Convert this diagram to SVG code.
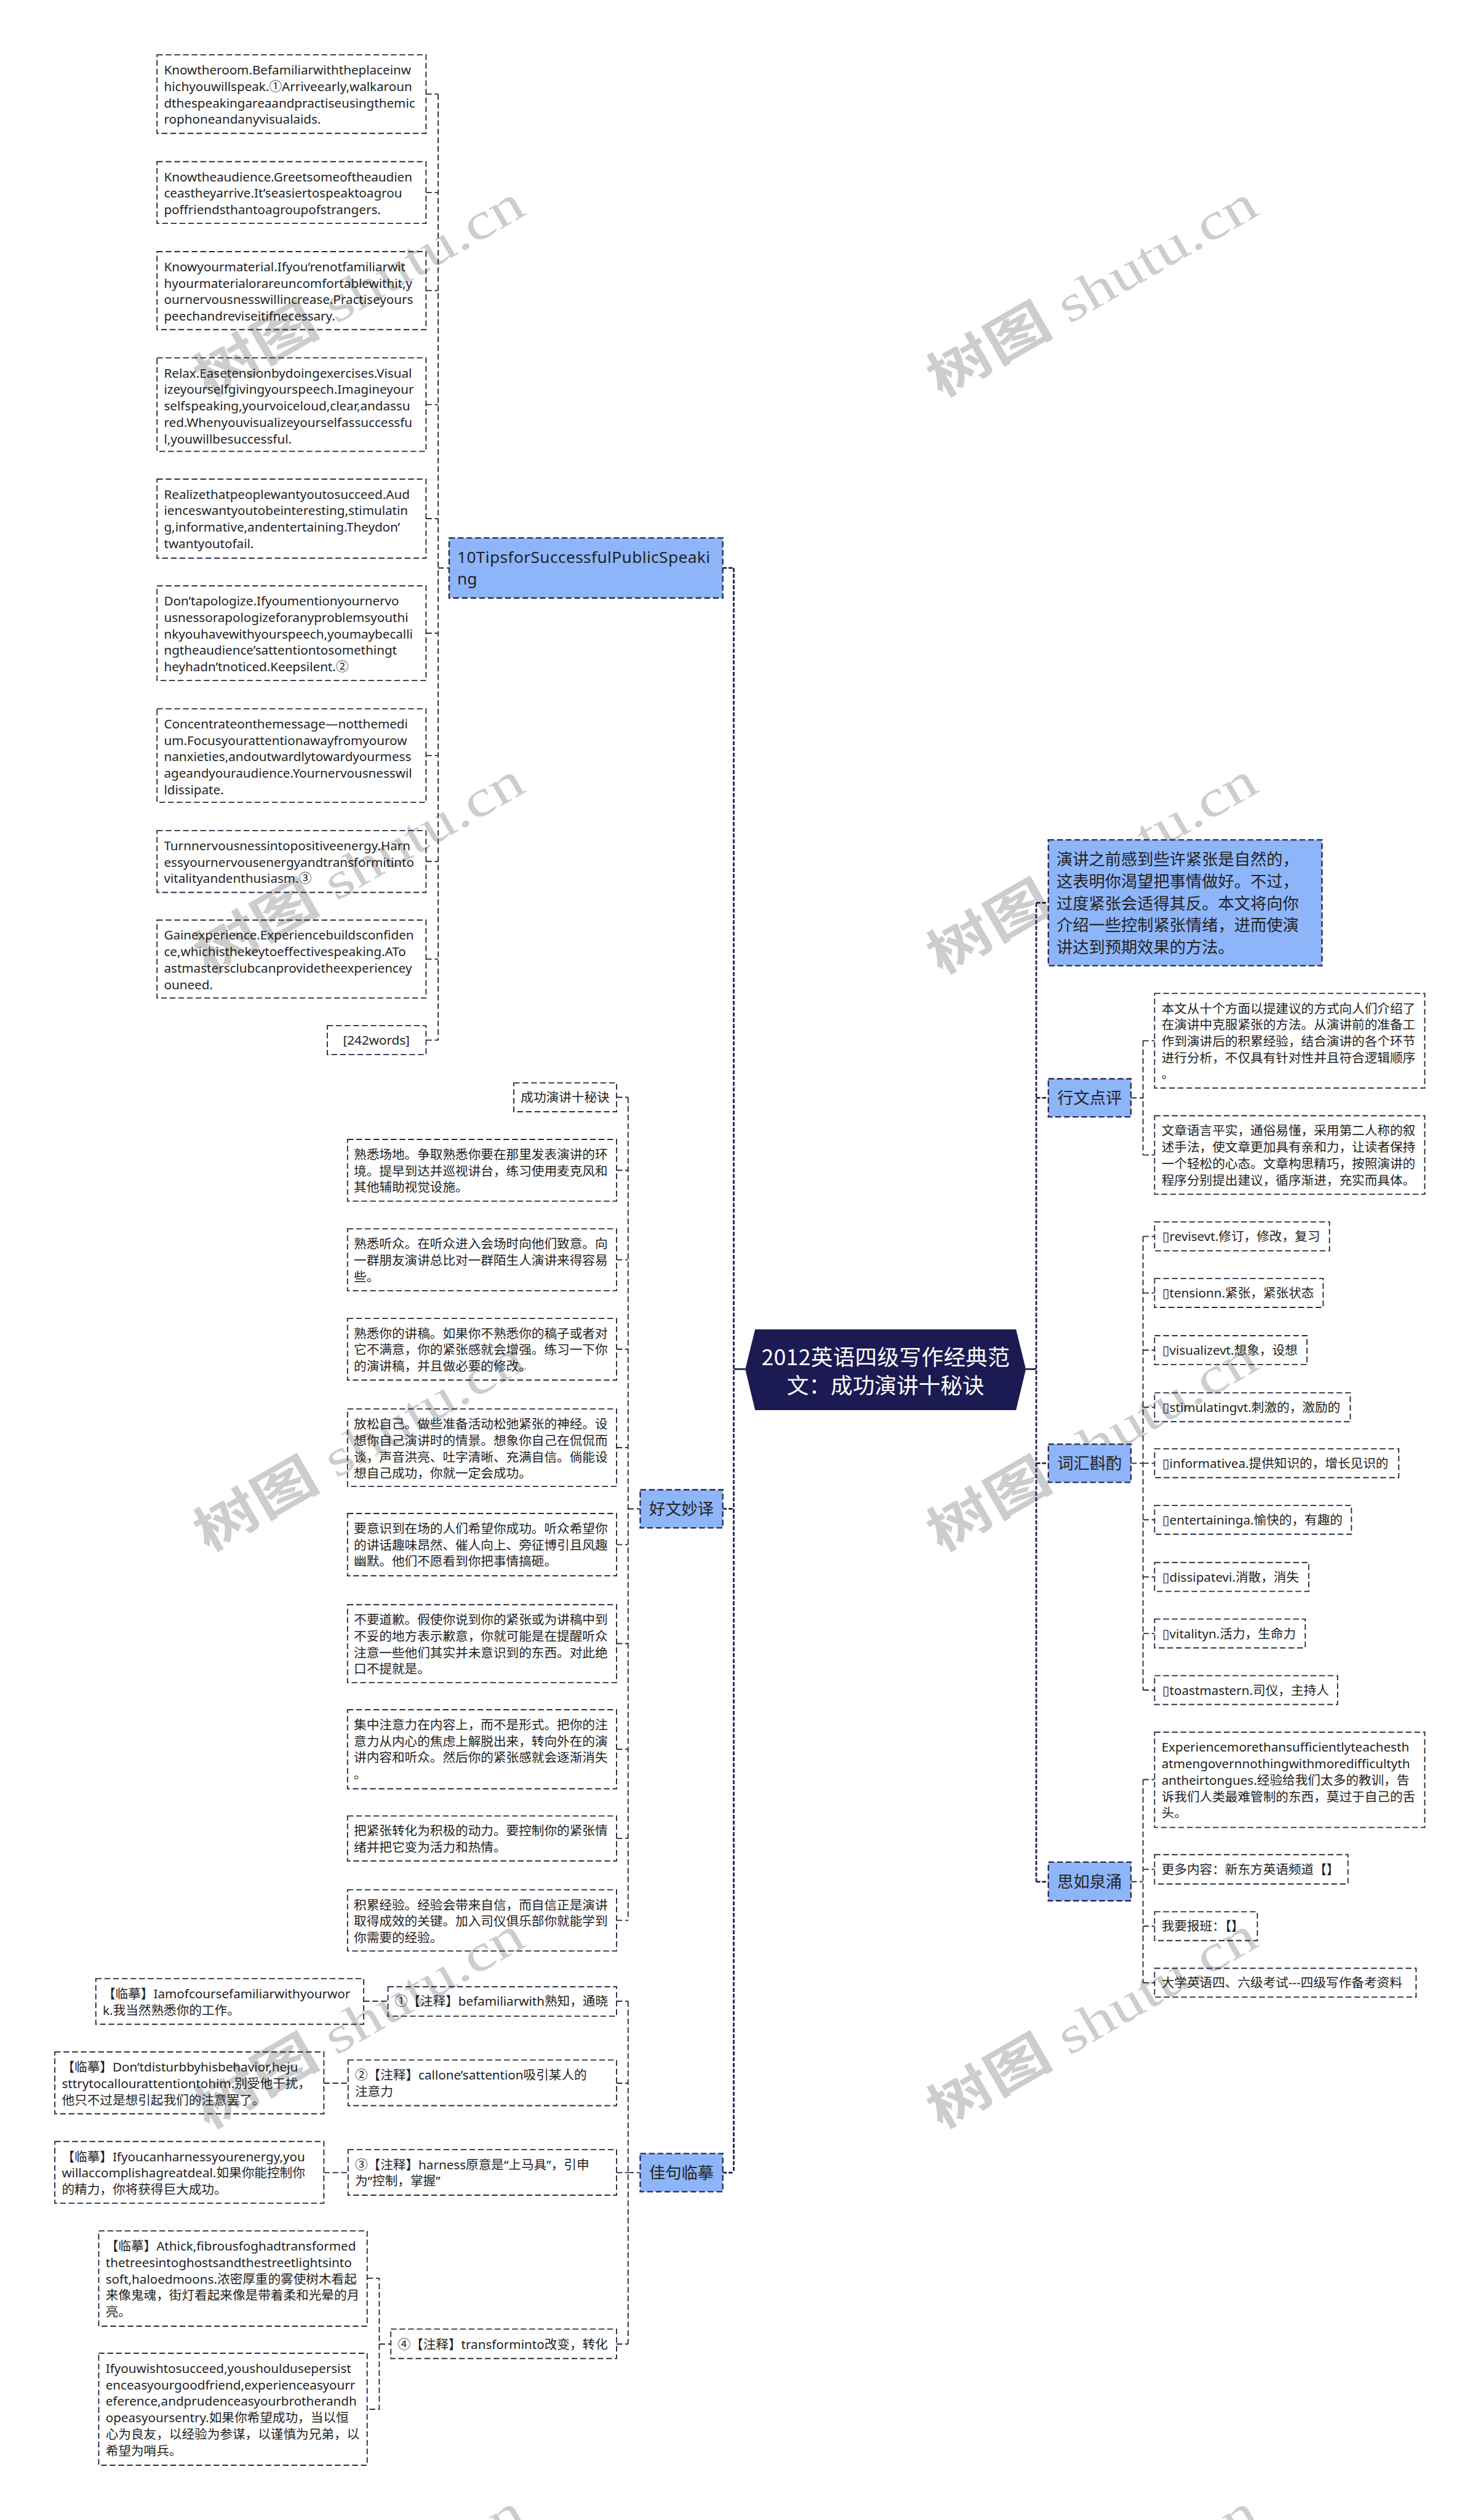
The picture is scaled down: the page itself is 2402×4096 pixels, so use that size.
<svg xmlns="http://www.w3.org/2000/svg" width="2402" height="4096" viewBox="0 0 2402 4096">
<style>
.bx{fill:none;stroke:#2a2a44;stroke-width:2;stroke-dasharray:10 5}
.bl{fill:#8eb5f9;stroke:#2a2a50;stroke-width:2.5;stroke-dasharray:10 5}
.t{font-family:"Noto Sans","Noto Sans CJK SC",sans-serif;font-size:22px;fill:#1f1f1f}
.tl{font-family:"Noto Sans","Noto Sans CJK SC",sans-serif;font-size:28px;fill:#222}
.tc{font-family:"Noto Sans CJK SC","Noto Sans",sans-serif;font-size:28px;fill:#222}
.mid{text-anchor:middle}
.tr{fill:none;stroke:#1f1f55;stroke-width:3;stroke-dasharray:7 3}
.sb{fill:none;stroke:#2a2a44;stroke-width:2;stroke-dasharray:10 5}
.sl{fill:none;stroke:#1f1f55;stroke-width:3}
.wm{fill:#cdcdcd;font-size:90px}
.wc{font-family:"Noto Sans CJK SC",sans-serif;font-weight:bold}
.ws{font-family:"Liberation Serif",serif}
</style>
<rect x="0" y="0" width="2402" height="4096" fill="#ffffff"/>
<g transform="scale(0.9382)">
<g id="watermarks" class="wm">
<text x="360" y="690" transform="rotate(-30 360 690)" textLength="640" lengthAdjust="spacingAndGlyphs"><tspan class="wc">树图</tspan><tspan class="ws"> shutu.cn</tspan></text>
<text x="360" y="1690" transform="rotate(-30 360 1690)" textLength="640" lengthAdjust="spacingAndGlyphs"><tspan class="wc">树图</tspan><tspan class="ws"> shutu.cn</tspan></text>
<text x="360" y="2690" transform="rotate(-30 360 2690)" textLength="640" lengthAdjust="spacingAndGlyphs"><tspan class="wc">树图</tspan><tspan class="ws"> shutu.cn</tspan></text>
<text x="360" y="3690" transform="rotate(-30 360 3690)" textLength="640" lengthAdjust="spacingAndGlyphs"><tspan class="wc">树图</tspan><tspan class="ws"> shutu.cn</tspan></text>
<text x="360" y="4690" transform="rotate(-30 360 4690)" textLength="640" lengthAdjust="spacingAndGlyphs"><tspan class="wc">树图</tspan><tspan class="ws"> shutu.cn</tspan></text>
<text x="1630" y="690" transform="rotate(-30 1630 690)" textLength="640" lengthAdjust="spacingAndGlyphs"><tspan class="wc">树图</tspan><tspan class="ws"> shutu.cn</tspan></text>
<text x="1630" y="1690" transform="rotate(-30 1630 1690)" textLength="640" lengthAdjust="spacingAndGlyphs"><tspan class="wc">树图</tspan><tspan class="ws"> shutu.cn</tspan></text>
<text x="1630" y="2690" transform="rotate(-30 1630 2690)" textLength="640" lengthAdjust="spacingAndGlyphs"><tspan class="wc">树图</tspan><tspan class="ws"> shutu.cn</tspan></text>
<text x="1630" y="3690" transform="rotate(-30 1630 3690)" textLength="640" lengthAdjust="spacingAndGlyphs"><tspan class="wc">树图</tspan><tspan class="ws"> shutu.cn</tspan></text>
<text x="1630" y="4690" transform="rotate(-30 1630 4690)" textLength="640" lengthAdjust="spacingAndGlyphs"><tspan class="wc">树图</tspan><tspan class="ws"> shutu.cn</tspan></text>
</g>

<g id="connectors">
<path class="tr" d="M1271 984 V3764 M1252 984 H1271 M1252 2614 H1271 M1252 3764 H1271"/>
<path class="tr" d="M1795 1564 V3260 M1795 1564 H1816 M1795 1902 H1816 M1795 2535 H1816 M1795 3260 H1816"/>
<path class="sl" d="M1271 2372 H1291 M1777 2372 H1795"/>
<path class="sb" d="M759 163 V1802 M759 984 H778 M738 163 H759 M738 333.5 H759 M738 503.5 H759 M738 701 H759 M738 898.5 H759 M738 1097 H759 M738 1309 H759 M738 1492.5 H759 M738 1661.5 H759 M738 1802 H759"/>
<path class="sb" d="M1088 1901 V3327 M1088 2614 H1109 M1068 1901 H1088 M1068 2027.5 H1088 M1068 2182.5 H1088 M1068 2337.5 H1088 M1068 2508 H1088 M1068 2676 H1088 M1068 2847.5 H1088 M1068 3030.5 H1088 M1068 3185 H1088 M1068 3327 H1088"/>
<path class="sb" d="M1088 3467 V4061 M1088 3764 H1109 M1068 3467 H1088 M1068 3609 H1088 M1068 3764 H1088 M1068 4061 H1088"/>
<path class="sb" d="M630 3467 H672 M561 3609 H603 M561 3764 H603 M636 3947 H657 V4174 H636 M657 4061 H677"/>
<path class="sb" d="M1959 1902 H1980 M1980 1803 V2001 M1980 1803 H2000 M1980 2001 H2000"/>
<path class="sb" d="M1959 2535 H1980 M1980 2142 V2928 M1980 2142 H2000 M1980 2240 H2000 M1980 2339 H2000 M1980 2438 H2000 M1980 2535 H2000 M1980 2633 H2000 M1980 2732 H2000 M1980 2830 H2000 M1980 2928 H2000"/>
<path class="sb" d="M1959 3260 H1980 M1980 3083 V3435 M1980 3083 H2000 M1980 3238.5 H2000 M1980 3337 H2000 M1980 3435 H2000"/>
</g>

<g id="root">
<polygon points="1291,2372 1308,2303 1760,2303 1777,2372 1760,2443 1308,2443" fill="#1b1a52"/>
<text x="1534" y="2365" class="mid" font-family="Noto Sans CJK SC, sans-serif" font-size="38" fill="#ffffff" textLength="430" lengthAdjust="spacing">2012英语四级写作经典范</text>
<text x="1534" y="2414" class="mid" font-family="Noto Sans CJK SC, sans-serif" font-size="38" fill="#ffffff">文：成功演讲十秘诀</text>
</g>

<g id="n-tips">
<rect class="bl" x="778" y="932" width="474" height="104"/>
<text class="tl" x="792" y="975" textLength="438" lengthAdjust="spacing">10TipsforSuccessfulPublicSpeaki</text>
<text class="tl" x="792" y="1013">ng</text>
</g>
<g id="tip1"><rect class="bx" x="272" y="95" width="466" height="136"/>
<text class="t" x="284" y="129">Knowtheroom.Befamiliarwiththeplaceinw</text>
<text class="t" x="284" y="157.5">hichyouwillspeak.①Arriveearly,walkaroun</text>
<text class="t" x="284" y="186">dthespeakingareaandpractiseusingthemic</text>
<text class="t" x="284" y="214.5">rophoneandanyvisualaids.</text></g>
<g id="tip2"><rect class="bx" x="272" y="280" width="466" height="107"/>
<text class="t" x="284" y="314">Knowtheaudience.Greetsomeoftheaudien</text>
<text class="t" x="284" y="342.5">ceastheyarrive.It’seasiertospeaktoagrou</text>
<text class="t" x="284" y="371">poffriendsthantoagroupofstrangers.</text></g>
<g id="tip3"><rect class="bx" x="272" y="436" width="466" height="135"/>
<text class="t" x="284" y="470">Knowyourmaterial.Ifyou’renotfamiliarwit</text>
<text class="t" x="284" y="498.5">hyourmaterialorareuncomfortablewithit,y</text>
<text class="t" x="284" y="527">ournervousnesswillincrease.Practiseyours</text>
<text class="t" x="284" y="555.5">peechandreviseitifnecessary.</text></g>
<g id="tip4"><rect class="bx" x="272" y="620" width="466" height="162"/>
<text class="t" x="284" y="654">Relax.Easetensionbydoingexercises.Visual</text>
<text class="t" x="284" y="682.5">izeyourselfgivingyourspeech.Imagineyour</text>
<text class="t" x="284" y="711">selfspeaking,yourvoiceloud,clear,andassu</text>
<text class="t" x="284" y="739.5">red.Whenyouvisualizeyourselfassuccessfu</text>
<text class="t" x="284" y="768">l,youwillbesuccessful.</text></g>
<g id="tip5"><rect class="bx" x="272" y="830" width="466" height="137"/>
<text class="t" x="284" y="864">Realizethatpeoplewantyoutosucceed.Aud</text>
<text class="t" x="284" y="892.5">ienceswantyoutobeinteresting,stimulatin</text>
<text class="t" x="284" y="921">g,informative,andentertaining.Theydon’</text>
<text class="t" x="284" y="949.5">twantyoutofail.</text></g>
<g id="tip6"><rect class="bx" x="272" y="1015" width="466" height="164"/>
<text class="t" x="284" y="1049">Don’tapologize.Ifyoumentionyournervo</text>
<text class="t" x="284" y="1077.5">usnessorapologizeforanyproblemsyouthi</text>
<text class="t" x="284" y="1106">nkyouhavewithyourspeech,youmaybecalli</text>
<text class="t" x="284" y="1134.5">ngtheaudience’sattentiontosomethingt</text>
<text class="t" x="284" y="1163">heyhadn’tnoticed.Keepsilent.②</text></g>
<g id="tip7"><rect class="bx" x="272" y="1228" width="466" height="162"/>
<text class="t" x="284" y="1262">Concentrateonthemessage—notthemedi</text>
<text class="t" x="284" y="1290.5">um.Focusyourattentionawayfromyourow</text>
<text class="t" x="284" y="1319">nanxieties,andoutwardlytowardyourmess</text>
<text class="t" x="284" y="1347.5">ageandyouraudience.Yournervousnesswil</text>
<text class="t" x="284" y="1376">ldissipate.</text></g>
<g id="tip8"><rect class="bx" x="272" y="1439" width="466" height="107"/>
<text class="t" x="284" y="1473">Turnnervousnessintopositiveenergy.Harn</text>
<text class="t" x="284" y="1501.5">essyournervousenergyandtransformitinto</text>
<text class="t" x="284" y="1530">vitalityandenthusiasm.③</text></g>
<g id="tip9"><rect class="bx" x="272" y="1594" width="466" height="135"/>
<text class="t" x="284" y="1628">Gainexperience.Experiencebuildsconfiden</text>
<text class="t" x="284" y="1656.5">ce,whichisthekeytoeffectivespeaking.ATo</text>
<text class="t" x="284" y="1685">astmastersclubcanprovidetheexperiencey</text>
<text class="t" x="284" y="1713.5">ouneed.</text></g>
<g id="tip-words"><rect class="bx" x="567" y="1777" width="171" height="50"/>
<text class="t mid" x="652" y="1810">[242words]</text></g>

<g id="n-haowen">
<rect class="bl" x="1109" y="2581" width="143" height="66"/>
<text class="tc mid" x="1180.5" y="2624">好文妙译</text>
</g>
<g id="hw0"><rect class="bx" x="890" y="1876" width="178" height="50"/>
<text class="t" x="902" y="1909">成功演讲十秘诀</text></g>
<g id="hw1"><rect class="bx" x="602" y="1974" width="466" height="107"/>
<text class="t" x="613" y="2008">熟悉场地。争取熟悉你要在那里发表演讲的环</text>
<text class="t" x="613" y="2036.5">境。提早到达并巡视讲台，练习使用麦克风和</text>
<text class="t" x="613" y="2065">其他辅助视觉设施。</text></g>
<g id="hw2"><rect class="bx" x="602" y="2129" width="466" height="107"/>
<text class="t" x="613" y="2163">熟悉听众。在听众进入会场时向他们致意。向</text>
<text class="t" x="613" y="2191.5">一群朋友演讲总比对一群陌生人演讲来得容易</text>
<text class="t" x="613" y="2220">些。</text></g>
<g id="hw3"><rect class="bx" x="602" y="2284" width="466" height="107"/>
<text class="t" x="613" y="2318">熟悉你的讲稿。如果你不熟悉你的稿子或者对</text>
<text class="t" x="613" y="2346.5">它不满意，你的紧张感就会增强。练习一下你</text>
<text class="t" x="613" y="2375">的演讲稿，并且做必要的修改。</text></g>
<g id="hw4"><rect class="bx" x="602" y="2441" width="466" height="134"/>
<text class="t" x="613" y="2475">放松自己。做些准备活动松弛紧张的神经。设</text>
<text class="t" x="613" y="2503.5">想你自己演讲时的情景。想象你自己在侃侃而</text>
<text class="t" x="613" y="2532">谈，声音洪亮、吐字清晰、充满自信。倘能设</text>
<text class="t" x="613" y="2560.5">想自己成功，你就一定会成功。</text></g>
<g id="hw5"><rect class="bx" x="602" y="2622" width="466" height="108"/>
<text class="t" x="613" y="2656">要意识到在场的人们希望你成功。听众希望你</text>
<text class="t" x="613" y="2684.5">的讲话趣味昂然、催人向上、旁征博引且风趣</text>
<text class="t" x="613" y="2713">幽默。他们不愿看到你把事情搞砸。</text></g>
<g id="hw6"><rect class="bx" x="602" y="2780" width="466" height="135"/>
<text class="t" x="613" y="2814">不要道歉。假使你说到你的紧张或为讲稿中到</text>
<text class="t" x="613" y="2842.5">不妥的地方表示歉意，你就可能是在提醒听众</text>
<text class="t" x="613" y="2871">注意一些他们其实并未意识到的东西。对此绝</text>
<text class="t" x="613" y="2899.5">口不提就是。</text></g>
<g id="hw7"><rect class="bx" x="602" y="2962" width="466" height="137"/>
<text class="t" x="613" y="2996">集中注意力在内容上，而不是形式。把你的注</text>
<text class="t" x="613" y="3024.5">意力从内心的焦虑上解脱出来，转向外在的演</text>
<text class="t" x="613" y="3053">讲内容和听众。然后你的紧张感就会逐渐消失</text>
<text class="t" x="613" y="3081.5">。</text></g>
<g id="hw8"><rect class="bx" x="602" y="3146" width="466" height="78"/>
<text class="t" x="613" y="3180">把紧张转化为积极的动力。要控制你的紧张情</text>
<text class="t" x="613" y="3208.5">绪并把它变为活力和热情。</text></g>
<g id="hw9"><rect class="bx" x="602" y="3274" width="466" height="106"/>
<text class="t" x="613" y="3308">积累经验。经验会带来自信，而自信正是演讲</text>
<text class="t" x="613" y="3336.5">取得成效的关键。加入司仪俱乐部你就能学到</text>
<text class="t" x="613" y="3365">你需要的经验。</text></g>

<g id="n-jiaju">
<rect class="bl" x="1109" y="3731" width="143" height="66"/>
<text class="tc mid" x="1180.5" y="3774">佳句临摹</text>
</g>
<g id="zs1"><rect class="bx" x="672" y="3442" width="396" height="51"/>
<text class="t" x="684" y="3475">①【注释】befamiliarwith熟知，通晓</text></g>
<g id="lm1"><rect class="bx" x="166" y="3428" width="464" height="79"/>
<text class="t" x="178" y="3462">【临摹】Iamofcoursefamiliarwithyourwor</text>
<text class="t" x="178" y="3490.5">k.我当然熟悉你的工作。</text></g>
<g id="zs2"><rect class="bx" x="603" y="3569" width="465" height="79"/>
<text class="t" x="615" y="3603">②【注释】callone’sattention吸引某人的</text>
<text class="t" x="615" y="3631.5">注意力</text></g>
<g id="lm2"><rect class="bx" x="95" y="3555" width="466" height="107"/>
<text class="t" x="107" y="3589">【临摹】Don’tdisturbbyhisbehavior,heju</text>
<text class="t" x="107" y="3617.5">sttrytocallourattentiontohim.别受他干扰，</text>
<text class="t" x="107" y="3646">他只不过是想引起我们的注意罢了。</text></g>
<g id="zs3"><rect class="bx" x="603" y="3724" width="465" height="79"/>
<text class="t" x="615" y="3758">③【注释】harness原意是“上马具”，引申</text>
<text class="t" x="615" y="3786.5">为“控制，掌握”</text></g>
<g id="lm3"><rect class="bx" x="95" y="3710" width="466" height="107"/>
<text class="t" x="107" y="3744">【临摹】Ifyoucanharnessyourenergy,you</text>
<text class="t" x="107" y="3772.5">willaccomplishagreatdeal.如果你能控制你</text>
<text class="t" x="107" y="3801">的精力，你将获得巨大成功。</text></g>
<g id="zs4"><rect class="bx" x="677" y="4035" width="391" height="51"/>
<text class="t" x="689" y="4069">④【注释】transforminto改变，转化</text></g>
<g id="lm4"><rect class="bx" x="171" y="3865" width="465" height="165"/>
<text class="t" x="183" y="3899">【临摹】Athick,fibrousfoghadtransformed</text>
<text class="t" x="183" y="3927.5">thetreesintoghostsandthestreetlightsinto</text>
<text class="t" x="183" y="3956">soft,haloedmoons.浓密厚重的雾使树木看起</text>
<text class="t" x="183" y="3984.5">来像鬼魂，街灯看起来像是带着柔和光晕的月</text>
<text class="t" x="183" y="4013">亮。</text></g>
<g id="lm5"><rect class="bx" x="171" y="4077" width="465" height="194"/>
<text class="t" x="183" y="4111">Ifyouwishtosucceed,youshouldusepersist</text>
<text class="t" x="183" y="4139.5">enceasyourgoodfriend,experienceasyourr</text>
<text class="t" x="183" y="4168">eference,andprudenceasyourbrotherandh</text>
<text class="t" x="183" y="4196.5">opeasyoursentry.如果你希望成功，当以恒</text>
<text class="t" x="183" y="4225">心为良友，以经验为参谋，以谨慎为兄弟，以</text>
<text class="t" x="183" y="4253.5">希望为哨兵。</text></g>

<g id="n-intro">
<rect class="bl" x="1816" y="1455" width="474" height="218"/>
<text class="tc" x="1830" y="1499">演讲之前感到些许紧张是自然的，</text>
<text class="tc" x="1830" y="1537">这表明你渴望把事情做好。不过，</text>
<text class="tc" x="1830" y="1575">过度紧张会适得其反。本文将向你</text>
<text class="tc" x="1830" y="1613">介绍一些控制紧张情绪，进而使演</text>
<text class="tc" x="1830" y="1651">讲达到预期效果的方法。</text>
</g>

<g id="n-xingwen">
<rect class="bl" x="1816" y="1869" width="143" height="66"/>
<text class="tc mid" x="1887.5" y="1912">行文点评</text>
</g>
<g id="xw1"><rect class="bx" x="2000" y="1721" width="468" height="164"/>
<text class="t" x="2012" y="1755">本文从十个方面以提建议的方式向人们介绍了</text>
<text class="t" x="2012" y="1783.5">在演讲中克服紧张的方法。从演讲前的准备工</text>
<text class="t" x="2012" y="1812">作到演讲后的积累经验，结合演讲的各个环节</text>
<text class="t" x="2012" y="1840.5">进行分析，不仅具有针对性并且符合逻辑顺序</text>
<text class="t" x="2012" y="1869">。</text></g>
<g id="xw2"><rect class="bx" x="2000" y="1933" width="468" height="136"/>
<text class="t" x="2012" y="1967">文章语言平实，通俗易懂，采用第二人称的叙</text>
<text class="t" x="2012" y="1995.5">述手法，使文章更加具有亲和力，让读者保持</text>
<text class="t" x="2012" y="2024">一个轻松的心态。文章构思精巧，按照演讲的</text>
<text class="t" x="2012" y="2052.5">程序分别提出建议，循序渐进，充实而具体。</text></g>

<g id="n-cihui">
<rect class="bl" x="1816" y="2502" width="143" height="66"/>
<text class="tc mid" x="1887.5" y="2545">词汇斟酌</text>
</g>
<g id="ch1"><rect class="bx" x="2000" y="2117" width="303" height="50"/><text class="t" x="2013" y="2150">▯revisevt.修订，修改，复习</text></g>
<g id="ch2"><rect class="bx" x="2000" y="2215" width="292" height="50"/><text class="t" x="2013" y="2248">▯tensionn.紧张，紧张状态</text></g>
<g id="ch3"><rect class="bx" x="2000" y="2314" width="264" height="50"/><text class="t" x="2013" y="2347">▯visualizevt.想象，设想</text></g>
<g id="ch4"><rect class="bx" x="2000" y="2413" width="339" height="50"/><text class="t" x="2013" y="2446">▯stimulatingvt.刺激的，激励的</text></g>
<g id="ch5"><rect class="bx" x="2000" y="2510" width="423" height="50"/><text class="t" x="2013" y="2543">▯informativea.提供知识的，增长见识的</text></g>
<g id="ch6"><rect class="bx" x="2000" y="2608" width="341" height="50"/><text class="t" x="2013" y="2641">▯entertaininga.愉快的，有趣的</text></g>
<g id="ch7"><rect class="bx" x="2000" y="2707" width="267" height="50"/><text class="t" x="2013" y="2740">▯dissipatevi.消散，消失</text></g>
<g id="ch8"><rect class="bx" x="2000" y="2805" width="261" height="50"/><text class="t" x="2013" y="2838">▯vitalityn.活力，生命力</text></g>
<g id="ch9"><rect class="bx" x="2000" y="2903" width="317" height="50"/><text class="t" x="2013" y="2936">▯toastmastern.司仪，主持人</text></g>

<g id="n-siru">
<rect class="bl" x="1816" y="3226" width="143" height="67"/>
<text class="tc mid" x="1887.5" y="3270">思如泉涌</text>
</g>
<g id="sr1"><rect class="bx" x="2000" y="3001" width="468" height="165"/>
<text class="t" x="2012" y="3035">Experiencemorethansufficientlyteachesth</text>
<text class="t" x="2012" y="3063.5">atmengovernnothingwithmoredifficultyth</text>
<text class="t" x="2012" y="3092">antheirtongues.经验给我们太多的教训，告</text>
<text class="t" x="2012" y="3120.5">诉我们人类最难管制的东西，莫过于自己的舌</text>
<text class="t" x="2012" y="3149">头。</text></g>
<g id="sr2"><rect class="bx" x="2000" y="3213" width="335" height="51"/><text class="t" x="2012" y="3246.5">更多内容：新东方英语频道【】</text></g>
<g id="sr3"><rect class="bx" x="2000" y="3312" width="178" height="50"/><text class="t" x="2012" y="3345">我要报班：【】</text></g>
<g id="sr4"><rect class="bx" x="2000" y="3410" width="453" height="50"/><text class="t" x="2012" y="3443">大学英语四、六级考试---四级写作备考资料</text></g>
</g>
</svg>
